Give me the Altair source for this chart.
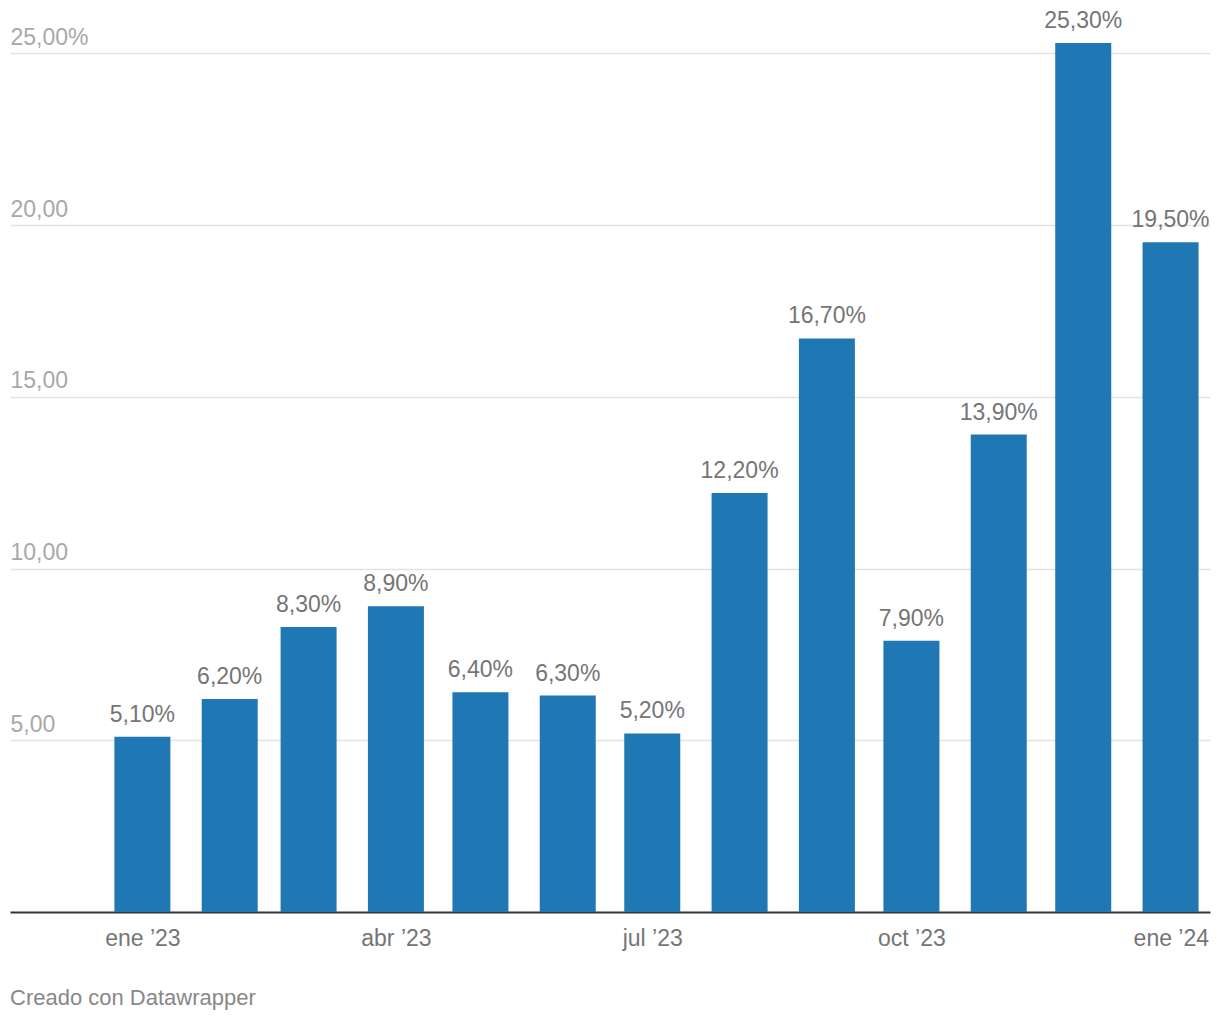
import altair as alt
import pandas as pd

months = ["2023-01-01", "2023-02-01", "2023-03-01", "2023-04-01", "2023-05-01",
          "2023-06-01", "2023-07-01", "2023-08-01", "2023-09-01", "2023-10-01",
          "2023-11-01", "2023-12-01", "2024-01-01"]
values = [5.1, 6.2, 8.3, 8.9, 6.4, 6.3, 5.2, 12.2, 16.7, 7.9, 13.9, 25.3, 19.5]

x_domain = ["2022-11-15", "2024-01-15"]
x_ticks = ["2023-01-01", "2023-04-01", "2023-07-01", "2023-10-01", "2024-01-01"]
y_ticks = [5, 10, 15, 20, 25]
footer = "Creado con Datawrapper"

df = pd.DataFrame({"mes": months, "v": values})

FONT = "Liberation Sans"
BLUE = "#1f77b4"

x_enc = alt.X(
    "mes:T",
    scale=alt.Scale(type="utc", domain=x_domain, padding=0, nice=False),
    axis=alt.Axis(
        title=None,
        values=x_ticks,
        labelExpr="['ene','feb','mar','abr','may','jun','jul','ago','sep','oct','nov','dic'][utcmonth(datum.value)] + ' \u2019' + utcFormat(datum.value, '%y')",
        labelAlign={"expr": "datum.value >= 1704067200000 ? 'right' : 'center'"},
        labelOffset={"expr": "datum.value >= 1704067200000 ? 38 : 0"},
        labelFont=FONT,
        labelFontSize=23,
        labelColor="#757575",
        labelPadding=15,
        ticks=False,
        tickSize=0,
        grid=False,
        domainColor="#333333",
        domainWidth=2,
        labelFlush=False,
        labelOverlap=False,
    ),
)

y_enc = alt.Y(
    "v:Q",
    scale=alt.Scale(domain=[0, 26], nice=False),
    axis=alt.Axis(
        title=None,
        values=y_ticks,
        labelExpr="replace(format(datum.value, '.2f'), '.', ',') + (datum.value == 25 ? '%' : '')",
        labelAlign="left",
        labelBaseline="alphabetic",
        labelOffset=-9,
        labelPadding=0,
        labelFont=FONT,
        labelFontSize=23,
        labelColor="#a8a8a8",
        ticks=False,
        tickSize=0,
        domain=False,
        grid=True,
        gridColor="#e3e3e3",
        gridWidth=1.5,
    ),
)

bars = alt.Chart(df).mark_bar(width=56, color=BLUE).encode(x=x_enc, y=y_enc)

labels = alt.Chart(df).transform_calculate(
    lab="replace(format(datum.v, '.2f'), '.', ',') + '%'"
).mark_text(
    font=FONT, fontSize=23, color="#757575", dy=-15, baseline="alphabetic", align="center"
).encode(x=alt.X("mes:T"), y=alt.Y("v:Q"), text="lab:N")

chart = alt.layer(bars, labels).properties(
    width=1200,
    height=893,
    background="white",
    autosize=alt.AutoSizeParams(type="none"),
    padding={"left": 2, "top": 11, "right": 2, "bottom": 100},
    title=alt.TitleParams(
        text=footer,
        orient="bottom",
        anchor="start",
        frame="group",
        font=FONT,
        fontSize=22,
        fontWeight="normal",
        color="#888888",
        offset=38,
    ),
).configure_view(strokeWidth=0, stroke="transparent")

chart.save("out.html", embed_options={"renderer": "svg", "actions": False})
